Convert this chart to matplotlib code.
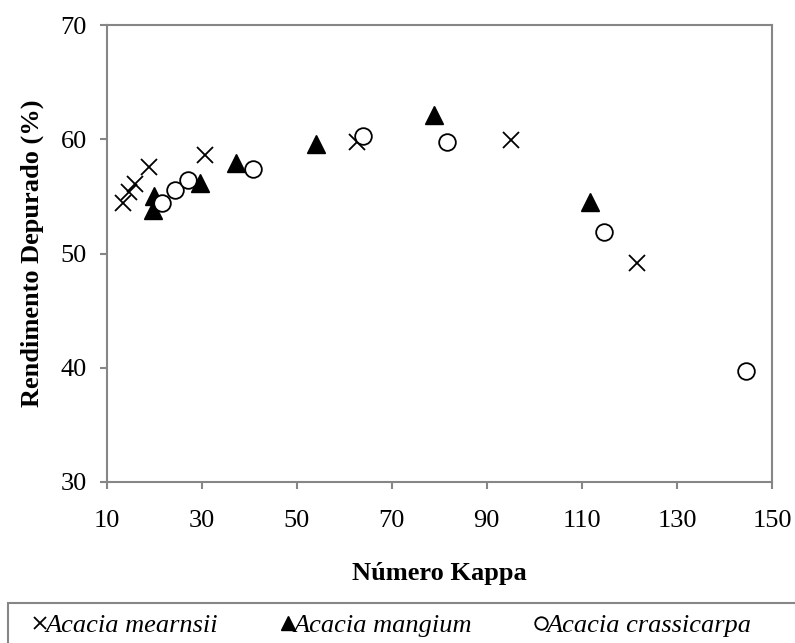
import matplotlib
matplotlib.use('Agg')
import matplotlib.pyplot as plt
from matplotlib.patches import Rectangle

plt.rcParams['font.family'] = ['Liberation Serif', 'DejaVu Serif']

# Número Kappa / Rendimento Depurado (%)
mearnsii_x = [13.4, 14.8, 16.0, 19.0, 30.7, 62.6, 95.1, 121.5]
mearnsii_y = [54.4, 55.4, 56.1, 57.6, 58.6, 59.8, 59.9, 49.2]

mangium_x = [19.8, 20.0, 29.7, 37.2, 54.0, 78.9, 111.8]
mangium_y = [53.8, 55.0, 56.2, 57.9, 59.6, 62.1, 54.5]

crassicarpa_x = [21.6, 24.4, 27.2, 40.9, 64.0, 81.7, 114.7, 144.5]
crassicarpa_y = [54.4, 55.6, 56.4, 57.4, 60.3, 59.8, 51.9, 39.7]

x_ticks = [10, 30, 50, 70, 90, 110, 130, 150]
y_ticks = [30, 40, 50, 60, 70]

gris = '#868686'
W, H = 795, 643

fig = plt.figure(figsize=(7.95, 6.43), dpi=100)
ax = fig.add_axes([106.5 / W, 1 - 482 / H, (772 - 106.5) / W, (482 - 25) / H])

ax.plot(mearnsii_x, mearnsii_y, ls='none', marker='x', ms=12, mew=1.3,
        color='black', label='Acacia mearnsii')
ax.plot(mangium_x, mangium_y, ls='none', marker='^', ms=13,
        color='black', label='Acacia mangium')
ax.plot(crassicarpa_x, crassicarpa_y, ls='none', marker='o', ms=12, mew=1.3,
        mfc='white', mec='black', label='Acacia crassicarpa')

ax.set_xlim(10, 150)
ax.set_ylim(30, 70)
ax.set_xticks(x_ticks)
ax.set_yticks(y_ticks)
for s in ax.spines.values():
    s.set_color(gris)
    s.set_linewidth(1.5)
ax.tick_params(direction='out', length=5, width=1.5, color=gris,
               labelsize=19, top=False, right=False)
ax.tick_params(axis='x', pad=15)
ax.tick_params(axis='y', pad=9)

ax.set_xlabel('Número Kappa', fontsize=19, fontweight='bold', labelpad=22)
ax.set_ylabel('Rendimento Depurado (%)', fontsize=19, fontweight='bold', labelpad=12)

# caixa da legenda (sai pela direita e por baixo, como no original)
fig.patches.append(Rectangle((8 / W, -0.05), 1.0, 0.05 + (H - 603) / H,
                             transform=fig.transFigure, fill=False,
                             edgecolor=gris, linewidth=1.5))
leg = fig.legend(loc='center left', bbox_to_anchor=(28 / W, 1 - 625 / H),
                 ncol=3, frameon=False,
                 handletextpad=-0.25, handlelength=0.9, markerscale=0.75,
                 borderpad=0.0, borderaxespad=0.0, columnspacing=2.2,
                 prop={'family': 'Liberation Serif', 'style': 'italic', 'size': 19})

fig.savefig('out.png', dpi=100)
